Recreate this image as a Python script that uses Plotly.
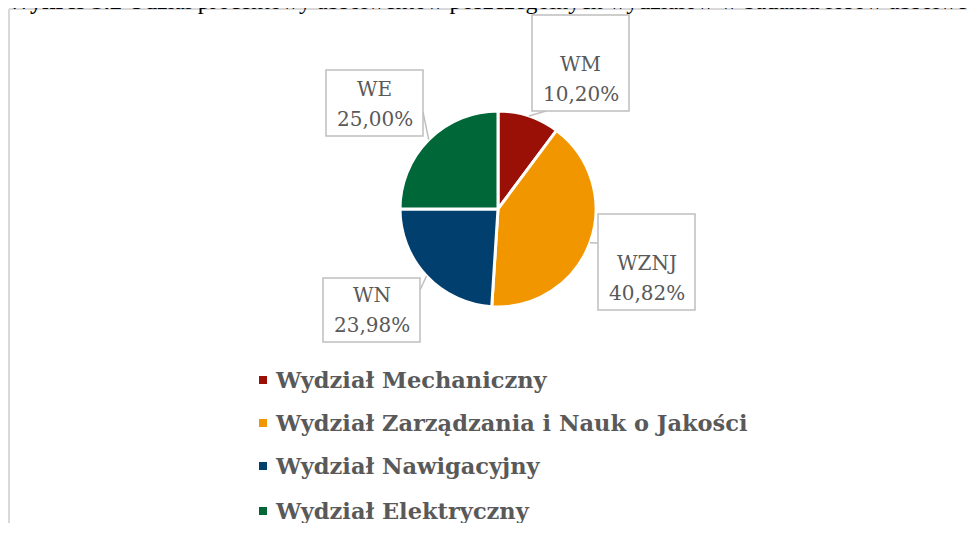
import math
import plotly.graph_objects as go

# ---- data ----
codes = ["WM", "WZNJ", "WN", "WE"]
names = ["Wydział Mechaniczny", "Wydział Zarządzania i Nauk o Jakości",
         "Wydział Nawigacyjny", "Wydział Elektryczny"]
values = [10.20, 40.82, 23.98, 25.00]
colors = ["#9a1006", "#f29600", "#003f6e", "#006838"]
title_text = "<b>Wykres 3.2</b> Udział procentowy absolwentów poszczególnych wydziałów w badaniu losów absolwentów"

OFF = 8  # page body margin
W, H = 975 - OFF, 537 - 2 * OFF - 6
def px(x):
    return (x - OFF) / W
def py(y):
    return 1 - (y - OFF) / H

# pie geometry (pixels in the final picture)
cx, cy, r = 498, 209, 98

fig = go.Figure()
fig.add_trace(go.Pie(
    labels=names, values=values, sort=False, direction="clockwise", rotation=0,
    marker=dict(colors=colors, line=dict(color="white", width=3)),
    textinfo="none", hoverinfo="label+percent", showlegend=False,
    domain=dict(x=[px(cx - r), px(cx + r)], y=[py(cy + r), py(cy - r)]),
))

label_font = dict(family="DejaVu Serif", size=20, color="#595959")
# box positions (pixels): left, top, right, bottom
boxes = [(532, 15, 629, 111), (598, 214, 695, 310), (323, 278, 420, 342), (326, 70, 423, 136)]
# leader anchor on box edge
anchors = [(546, 111), (598, 243), (420, 290), (423, 112)]

shapes = []
annotations = []
total = sum(values)
cum = 0
for i, v in enumerate(values):
    mid = (cum + v / 2) / total * 2 * math.pi
    cum += v
    ex = cx + r * math.sin(mid)
    ey = cy - r * math.cos(mid)
    bl, bt, br, bb = boxes[i]
    ax, ay = anchors[i]
    shapes.append(dict(type="line", xref="paper", yref="paper",
                       x0=px(ax), y0=py(ay), x1=px(ex), y1=py(ey),
                       line=dict(color="#bfbfbf", width=1.5)))
    shapes.append(dict(type="rect", xref="paper", yref="paper",
                       x0=px(bl), x1=px(br), y0=py(bb), y1=py(bt),
                       fillcolor="white", line=dict(color="#bfbfbf", width=1.5)))
    xc = px((bl + br) / 2)
    annotations.append(dict(text=codes[i], x=xc, y=py(bb - 47), xref="paper", yref="paper",
                            xanchor="center", yanchor="middle", showarrow=False, font=label_font))
    annotations.append(dict(text=f"{v:.2f}%".replace(".", ","), x=xc, y=py(bb - 17),
                            xref="paper", yref="paper", xanchor="center", yanchor="middle",
                            showarrow=False, font=label_font))

# legend (manual)
leg_y = [380, 423, 466, 511]
for i, nm in enumerate(names):
    shapes.append(dict(type="rect", xref="paper", yref="paper",
                       x0=px(259), x1=px(267), y0=py(leg_y[i] - 4), y1=py(leg_y[i] + 4),
                       fillcolor=colors[i], line=dict(width=0)))
    annotations.append(dict(text=f"<b>{nm}</b>", x=px(273), y=py(leg_y[i]),
                            xref="paper", yref="paper", xanchor="left", yanchor="middle",
                            showarrow=False,
                            font=dict(family="DejaVu Serif", size=22.5, color="#595959")))

# frame (left and top edges visible)
shapes.append(dict(type="line", xref="paper", yref="paper", x0=px(9), x1=px(9),
                   y0=py(9), y1=py(700), line=dict(color="#d9d9d9", width=2), layer="below"))
shapes.append(dict(type="line", xref="paper", yref="paper", x0=px(9), x1=px(1100),
                   y0=py(9), y1=py(9), line=dict(color="#d9d9d9", width=2), layer="below"))

annotations.append(dict(text=title_text, x=px(5), y=py(1), xref="paper", yref="paper",
                        xanchor="left", yanchor="middle", showarrow=False,
                        font=dict(family="Liberation Serif", size=24, color="black")))

fig.update_layout(width=W, height=H, margin=dict(l=0, r=0, t=0, b=0),
                  paper_bgcolor="white", plot_bgcolor="white",
                  shapes=shapes, annotations=annotations)
fig.write_html("out.html")
